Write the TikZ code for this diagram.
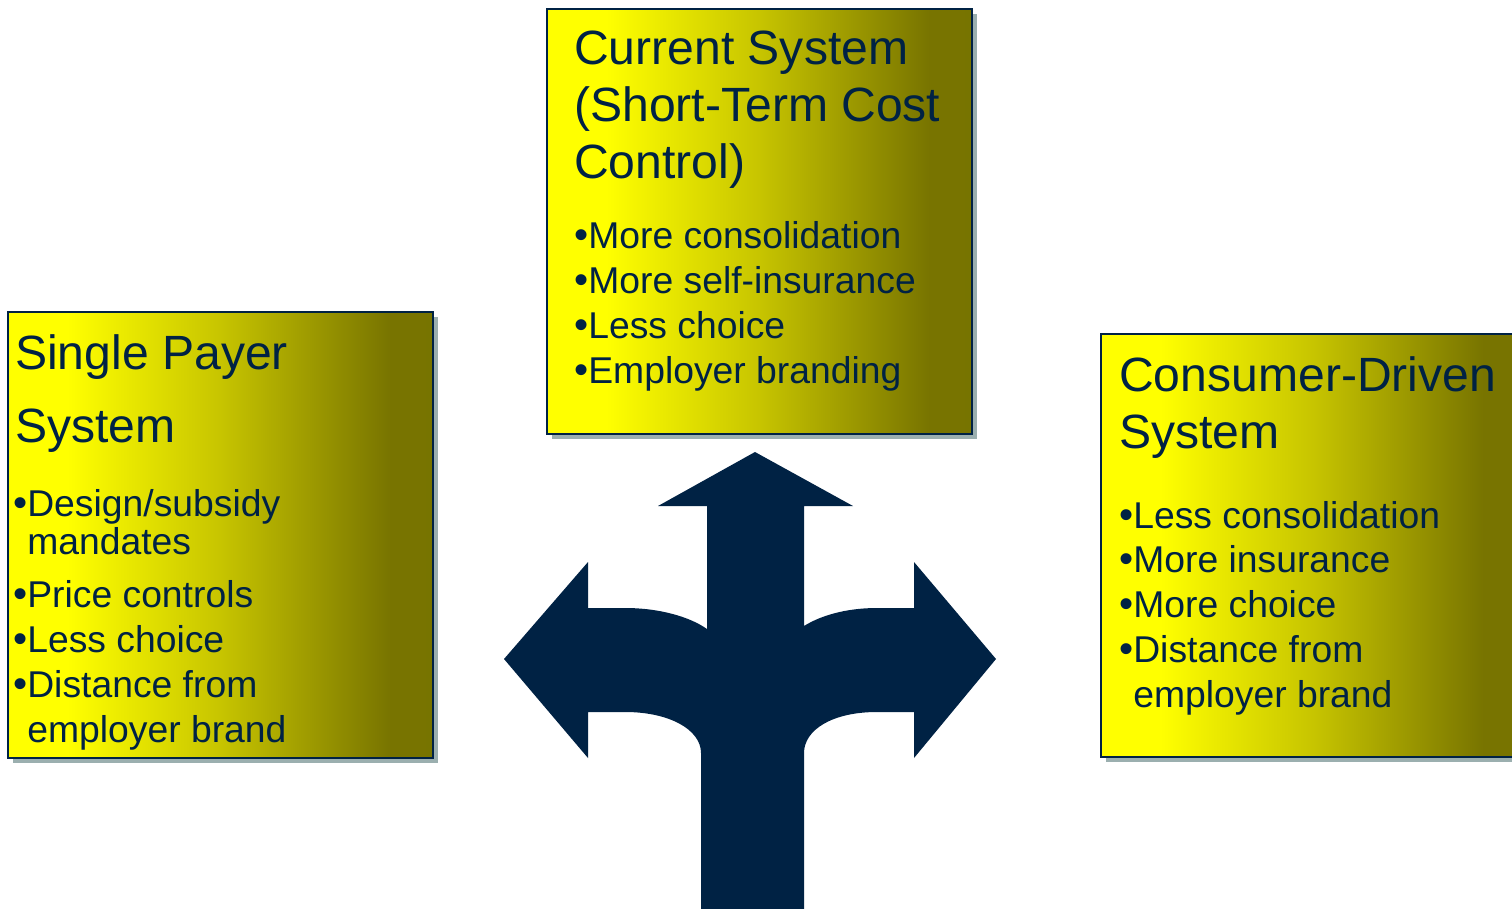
\documentclass[tikz,border=0pt]{standalone}
\usepackage{fontspec}
\setmainfont{Liberation Sans}
\usepackage{xcolor}
\usepackage{tikz}
\usetikzlibrary{shadows}

\definecolor{darknavy}{RGB}{0,34,68}
\definecolor{shadowgrey}{RGB}{155,175,175}
% yellow to olive, stops kept inside the 25bp--75bp band
\pgfdeclarehorizontalshading{boxfade}{100bp}{%
  rgb(0bp)=(1,1,0); rgb(32bp)=(1,1,0); rgb(50bp)=(0.78,0.77,0);
  rgb(70bp)=(0.47,0.455,0); rgb(100bp)=(0.46,0.45,0)}

\newcommand{\boxhead}{\fontsize{48.1}{57}\selectfont}
\newcommand{\boxlist}{\fontsize{37.3}{44.7}\selectfont}
\newcommand{\itembullet}{\scalebox{1.08}{•}}

\begin{document}
\begin{tikzpicture}[
  x=1pt, y=-1pt,
  box/.style={draw=darknavy, line width=2pt, shade, shading=boxfade,
              anchor=north west, inner sep=0pt,
              drop shadow={shadow xshift=5pt, shadow yshift=-5pt,
                           fill=shadowgrey, opacity=1}},
  % text nodes sit on the baseline of their last line
  head/.style={anchor=base west, inner sep=0pt, align=left,
               text=darknavy, font=\boxhead},
  items/.style={anchor=base west, inner sep=0pt, align=left,
                text=darknavy, font=\boxlist}
]
  \path[use as bounding box, fill=white] (0,0) rectangle (1512,908);
  \clip (0,0) rectangle (1512,908);

  % the three boxes
  \node[box, minimum width=425pt, minimum height=446pt] (single) at (7,311) {};
  \node[box, minimum width=425pt, minimum height=425pt] (current) at (546,8) {};
  \node[box, minimum width=425pt, minimum height=423pt] (consumer) at (1100,333) {};

  \node[head] (singlehead) at (15,442) {Single Payer\\[16pt]System};
  \node[items] (singleitems) at (13,742) {%
    \itembullet Design/subsidy\\[-6.7pt]\phantom{\itembullet}mandates\\[8.3pt]
    \itembullet Price controls\\\itembullet Less choice\\
    \itembullet Distance from\\\phantom{\itembullet}employer brand};

  \node[head] (currenthead) at (574,178) {Current System\\(Short-Term Cost\\Control)};
  \node[items] (currentitems) at (574,383) {%
    \itembullet More consolidation\\\itembullet More self-insurance\\
    \itembullet Less choice\\\itembullet Employer branding};

  \node[head] (consumerhead) at (1119,448) {Consumer-Driven\\System};
  \node[items] (consumeritems) at (1119,707) {%
    \itembullet Less consolidation\\\itembullet More insurance\\
    \itembullet More choice\\\itembullet Distance from\\
    \phantom{\itembullet}employer brand};

  % three-way fork
  \fill[darknavy] (755,452) -- (853,506) -- (804,506) -- (804,626)
    .. controls (820,616) and (845,608) .. (877,608) -- (914,608)
    -- (914,562) -- (996,659) -- (914,758) -- (914,712) -- (877,712)
    .. controls (832,712) and (804,730) .. (804,753) -- (804,915)
    -- (701,915) -- (701,753)
    .. controls (701,730) and (670,712) .. (625,712) -- (588,712)
    -- (588,758) -- (504,659) -- (588,562) -- (588,608) -- (625,608)
    .. controls (660,608) and (690,617) .. (707,629) -- (707,506)
    -- (658,506) -- cycle;
\end{tikzpicture}
\end{document}
